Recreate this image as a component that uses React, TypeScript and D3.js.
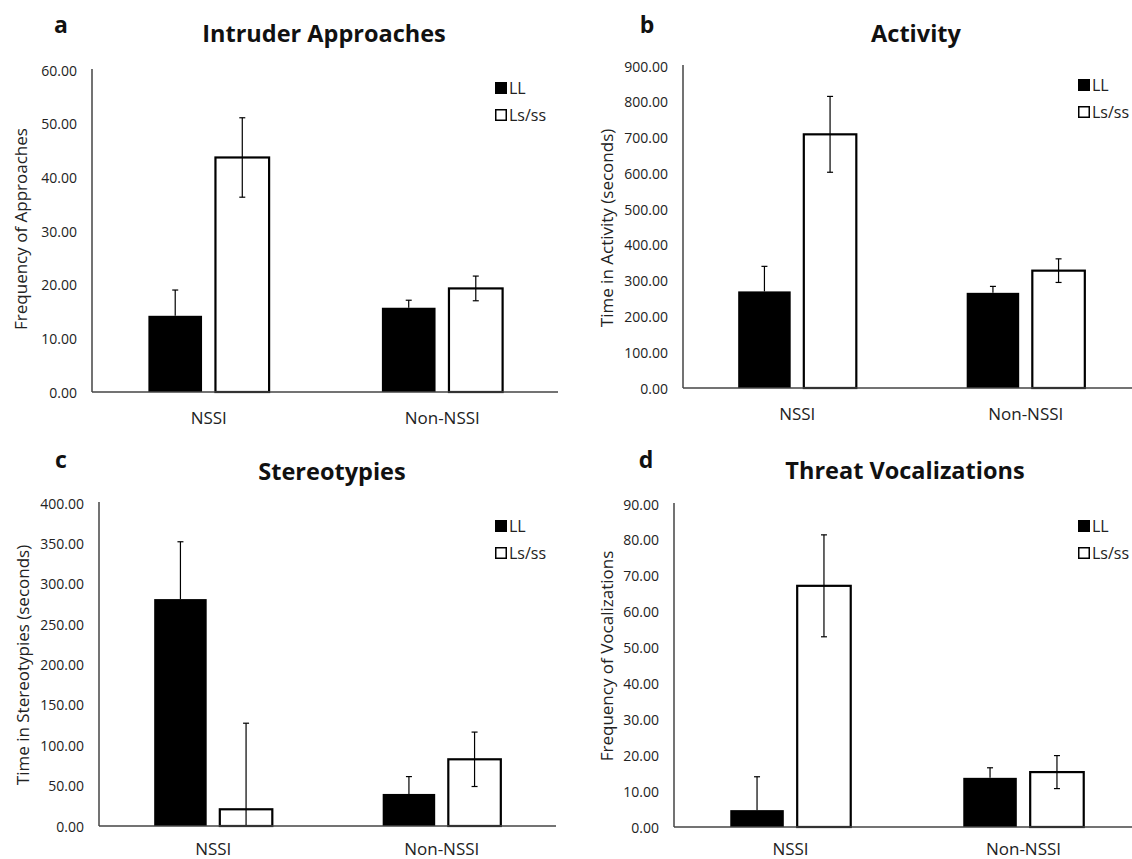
import React from "react";
import * as d3 from "d3";

const categories = ["NSSI", "Non-NSSI"];
const seriesNames = ["LL", "Ls/ss"];

// values (mean, error)
const approachesLL = [14.2, 15.7];
const approachesLLErr = [4.8, 1.4];
const approachesLs = [43.7, 19.3];
const approachesLsErr = [7.4, 2.3];

const activityLL = [270, 266];
const activityLLErr = [70, 18];
const activityLs = [709, 328];
const activityLsErr = [106, 33];

const stereoLL = [281, 39.7];
const stereoLLErr = [71, 21.5];
const stereoLs = [20.7, 82.6];
const stereoLsErr = [106.6, 33.7];

const threatLL = [4.7, 13.7];
const threatLLErr = [9.3, 2.8];
const threatLs = [67.2, 15.3];
const threatLsErr = [14.2, 4.6];

const approachesTicks = [0, 10, 20, 30, 40, 50, 60];
const activityTicks = [0, 100, 200, 300, 400, 500, 600, 700, 800, 900];
const stereoTicks = [0, 50, 100, 150, 200, 250, 300, 350, 400];
const threatTicks = [0, 10, 20, 30, 40, 50, 60, 70, 80, 90];

const FONT = "'Open Sans', 'DejaVu Sans', sans-serif";

interface Panel {
  letter: string;
  title: string;
  yLabel: string;
  ll: number[];
  llErr: number[];
  ls: number[];
  lsErr: number[];
  ticks: number[];
  // layout
  left: number;
  width: number;
  top: number;
  bottom: number;
  axisEnd: number;
  catY: number;
  titleX: number;
  titleY: number;
  letterX: number;
  letterY: number;
  legendX: number;
  legendY: number;
  yLabelX: number;
  yLabelY: number;
}

const panels: Panel[] = [
  {
    letter: "a", title: "Intruder Approaches", yLabel: "Frequency of Approaches",
    ll: approachesLL, llErr: approachesLLErr, ls: approachesLs, lsErr: approachesLsErr, ticks: approachesTicks,
    left: 92, width: 467, top: 70, bottom: 392, axisEnd: 558, catY: 417,
    titleX: 324, titleY: 42, letterX: 61, letterY: 33, legendX: 495, legendY: 82, yLabelX: 20, yLabelY: 229,
  },
  {
    letter: "b", title: "Activity", yLabel: "Time in Activity (seconds)",
    ll: activityLL, llErr: activityLLErr, ls: activityLs, lsErr: activityLsErr, ticks: activityTicks,
    left: 683, width: 457, top: 66, bottom: 388, axisEnd: 1132, catY: 413,
    titleX: 916, titleY: 42, letterX: 647, letterY: 33, legendX: 1078, legendY: 79, yLabelX: 606, yLabelY: 228,
  },
  {
    letter: "c", title: "Stereotypies", yLabel: "Time in Stereotypies (seconds)",
    ll: stereoLL, llErr: stereoLLErr, ls: stereoLs, lsErr: stereoLsErr, ticks: stereoTicks,
    left: 99, width: 457, top: 503, bottom: 826, axisEnd: 556, catY: 848,
    titleX: 332, titleY: 480, letterX: 61, letterY: 468, legendX: 495, legendY: 520, yLabelX: 22, yLabelY: 665,
  },
  {
    letter: "d", title: "Threat Vocalizations", yLabel: "Frequency of Vocalizations",
    ll: threatLL, llErr: threatLLErr, ls: threatLs, lsErr: threatLsErr, ticks: threatTicks,
    left: 674, width: 466, top: 504, bottom: 827, axisEnd: 1132, catY: 848,
    titleX: 905, titleY: 479, letterX: 646, letterY: 468, legendX: 1078, legendY: 520, yLabelX: 606, yLabelY: 656,
  },
];

function BarPanel({ p }: { p: Panel }) {
  const tickMax = p.ticks[p.ticks.length - 1];
  const y = d3.scaleLinear().domain([0, tickMax]).range([p.bottom, p.top]);
  const x0 = d3.scaleBand<string>().domain(categories).range([p.left, p.left + p.width]);
  const groupW = x0.bandwidth() * 0.517;
  const x1 = d3.scaleBand<string>().domain(seriesNames).range([0, groupW]).paddingInner(0.2);
  const fmt = d3.format(".2f");

  const rows = categories.flatMap((c, i) => [
    { cat: c, s: seriesNames[0], v: p.ll[i], e: p.llErr[i] },
    { cat: c, s: seriesNames[1], v: p.ls[i], e: p.lsErr[i] },
  ]);

  const cap = 3;

  return (
    <g>
      <text x={p.letterX} y={p.letterY} textAnchor="middle" fontFamily={FONT} fontWeight={700} fontSize={23} fill="#111">
        {p.letter}
      </text>
      <text x={p.titleX} y={p.titleY} textAnchor="middle" fontFamily={FONT} fontWeight={700} fontSize={23.5} fill="#111">
        {p.title}
      </text>

      {/* y axis ticks */}
      {p.ticks.map((t) => (
        <text key={t} x={p.left - 15} y={y(t)} textAnchor="end" dominantBaseline="central"
          fontFamily={FONT} fontSize={14} fill="#222">
          {fmt(t)}
        </text>
      ))}
      <text transform={`translate(${p.yLabelX},${p.yLabelY}) rotate(-90)`} textAnchor="middle"
        dominantBaseline="central" fontFamily={FONT} fontSize={17} fill="#222">
        {p.yLabel}
      </text>

      {/* bars */}
      {rows.map((r, i) => {
        const bx = (x0(r.cat) as number) + (x0.bandwidth() - groupW) / 2 + (x1(r.s) as number);
        const filled = r.s === seriesNames[0];
        return (
          <rect key={"b" + i} x={bx} y={y(r.v)} width={x1.bandwidth()} height={p.bottom - y(r.v)}
            fill={filled ? "#000" : "#fff"} stroke="#000" strokeWidth={filled ? 0 : 2.2} />
        );
      })}

      {/* error bars (lower half is hidden inside the black bars) */}
      {rows.map((r, i) => {
        const cx = (x0(r.cat) as number) + (x0.bandwidth() - groupW) / 2 + (x1(r.s) as number) + x1.bandwidth() / 2;
        const filled = r.s === seriesNames[0];
        const lo = filled ? r.v : Math.max(0, r.v - r.e);
        const hi = r.v + r.e;
        return (
          <g key={"e" + i} stroke="#000" strokeWidth={1.2}>
            <line x1={cx} x2={cx} y1={y(lo)} y2={y(hi)} />
            <line x1={cx - cap} x2={cx + cap} y1={y(hi)} y2={y(hi)} />
            {!filled && lo > 0 && <line x1={cx - cap} x2={cx + cap} y1={y(lo)} y2={y(lo)} />}
          </g>
        );
      })}

      {/* axes */}
      <line x1={p.left} x2={p.left} y1={p.top - 1} y2={p.bottom} stroke="#444" strokeWidth={1.5} />
      <line x1={p.left} x2={p.axisEnd} y1={p.bottom} y2={p.bottom} stroke="#444" strokeWidth={1.5} />

      {categories.map((c) => (
        <text key={c} x={(x0(c) as number) + x0.bandwidth() / 2} y={p.catY} textAnchor="middle"
          dominantBaseline="central" fontFamily={FONT} fontSize={17} fill="#222">
          {c}
        </text>
      ))}

      {/* legend */}
      {seriesNames.map((s, i) => (
        <g key={s} transform={`translate(${p.legendX},${p.legendY + i * 27})`}>
          <rect x={0.75} y={0.75} width={10.5} height={10.5} fill={i === 0 ? "#000" : "#fff"} stroke="#000" strokeWidth={1.5} />
          <text x={14} y={6} dominantBaseline="central" fontFamily={FONT} fontSize={16} fill="#222">
            {s}
          </text>
        </g>
      ))}
    </g>
  );
}

export default function App() {
  return (
    <div style={{ position: "absolute", left: 0, top: 0 }}>
      <svg width={1132} height={859} viewBox="0 0 1132 859" style={{ display: "block", background: "#fff" }}>
        <rect width={1132} height={859} fill="#fff" />
        {panels.map((p) => (
          <BarPanel key={p.letter} p={p} />
        ))}
      </svg>
    </div>
  );
}
